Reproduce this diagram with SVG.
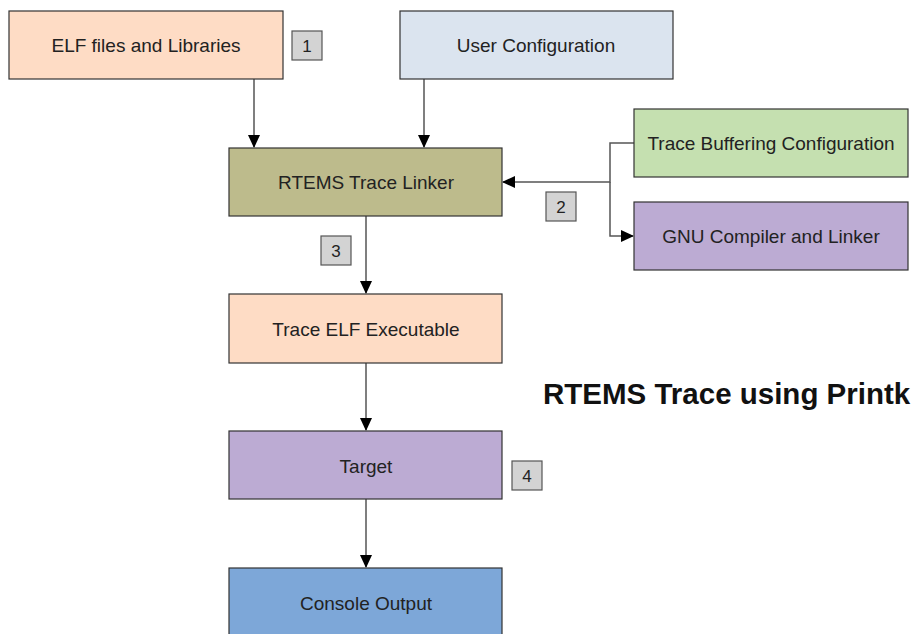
<svg xmlns="http://www.w3.org/2000/svg" width="918" height="634" viewBox="0 0 918 634">
<defs>
<marker id="ah" markerWidth="13" markerHeight="12" refX="12" refY="6" orient="auto" markerUnits="userSpaceOnUse">
<path d="M0,0 L13,6 L0,12 Z" fill="#000"/>
</marker>
<style>
.box{stroke:#333;stroke-width:1.2}
.t{font-family:"Liberation Sans",Arial,sans-serif;font-size:19px;fill:#222;text-anchor:middle;dominant-baseline:central}
.badge{fill:#d3d3d3;stroke:#555;stroke-width:1.2}
.bt{font-family:"Liberation Sans",Arial,sans-serif;font-size:17px;fill:#222;text-anchor:middle;dominant-baseline:central}
.c{fill:none;stroke:#555;stroke-width:1.5}
</style>
</defs>
<rect width="918" height="634" fill="#fff"/>
<g id="connectors">
<path class="c" d="M254,79 V147" marker-end="url(#ah)"/>
<path class="c" d="M424,79 V147" marker-end="url(#ah)"/>
<path class="c" d="M634,143 H610 V182 H503" marker-end="url(#ah)"/>
<path class="c" d="M610,182 V236 H633" marker-end="url(#ah)"/>
<path class="c" d="M366,216 V293" marker-end="url(#ah)"/>
<path class="c" d="M366,363 V430" marker-end="url(#ah)"/>
<path class="c" d="M366,499 V567" marker-end="url(#ah)"/>
</g>
<g id="elf"><rect class="box" x="9" y="11" width="274" height="68" fill="#fedcc5"/><text class="t" x="146" y="45">ELF files and Libraries</text></g>
<g id="badge1"><rect class="badge" x="292" y="31" width="30" height="29"/><text class="bt" x="307" y="46">1</text></g>
<g id="userconfig"><rect class="box" x="400" y="11" width="273" height="68" fill="#dbe4ef"/><text class="t" x="536" y="45">User Configuration</text></g>
<g id="linker"><rect class="box" x="229" y="148" width="273" height="68" fill="#bdbb8c"/><text class="t" x="366" y="182">RTEMS Trace Linker</text></g>
<g id="tracebuf"><rect class="box" x="634" y="109" width="274" height="68" fill="#c5e0b0"/><text class="t" x="771" y="143">Trace Buffering Configuration</text></g>
<g id="gnu"><rect class="box" x="634" y="202" width="274" height="68" fill="#bcabd3"/><text class="t" x="771" y="236">GNU Compiler and Linker</text></g>
<g id="badge2"><rect class="badge" x="546" y="192" width="30" height="29"/><text class="bt" x="561" y="207">2</text></g>
<g id="badge3"><rect class="badge" x="321" y="236" width="30" height="29"/><text class="bt" x="336" y="251">3</text></g>
<g id="traceelf"><rect class="box" x="229" y="294" width="273" height="69" fill="#fedcc5"/><text class="t" x="366" y="329">Trace ELF Executable</text></g>
<g id="target"><rect class="box" x="229" y="431" width="273" height="68" fill="#bcabd3"/><text class="t" x="366" y="466">Target</text></g>
<g id="badge4"><rect class="badge" x="512" y="461" width="30" height="29"/><text class="bt" x="527" y="476">4</text></g>
<g id="console"><rect class="box" x="229" y="568" width="273" height="70" fill="#7da7d8"/><text class="t" x="366" y="603">Console Output</text></g>
<g id="title"><text x="543" y="404" font-family="'Liberation Sans',Arial,sans-serif" font-weight="bold" font-size="29.5" fill="#111">RTEMS Trace using Printk</text></g>
</svg>
